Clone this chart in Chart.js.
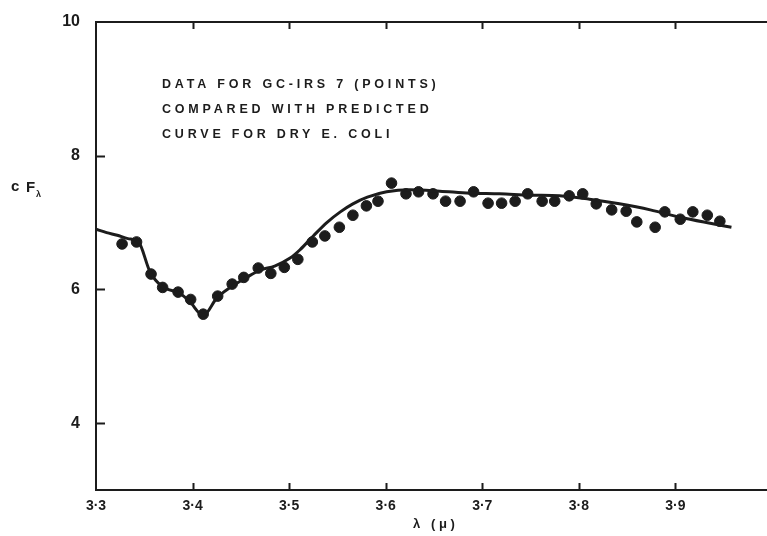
<!DOCTYPE html>
<html>
<head>
<meta charset="utf-8">
<title>GC-IRS 7 compared with dry E. coli</title>
<script src="https://cdn.jsdelivr.net/npm/chart.js@4.4.1/dist/chart.umd.min.js"></script>
<style>
  html, body { margin: 0; padding: 0; background: #fff; overflow: hidden; }
  #wrap { position: relative; width: 780px; height: 536px; }
</style>
</head>
<body>
<div id="wrap"><canvas id="chartCanvas"></canvas></div>
<script>
// Observed points for GC-IRS 7 (wavelength in microns, cF_lambda)
const pointWavelengths = [
  3.327, 3.342, 3.357, 3.369, 3.385, 3.398, 3.411, 3.426, 3.441, 3.453,
  3.468, 3.481, 3.495, 3.509, 3.524, 3.537, 3.552, 3.566, 3.580, 3.592,
  3.606, 3.621, 3.634, 3.649, 3.662, 3.677, 3.691, 3.706, 3.720, 3.734,
  3.747, 3.762, 3.775, 3.790, 3.804, 3.818, 3.834, 3.849, 3.860, 3.879,
  3.889, 3.905, 3.918, 3.933, 3.946
];
const pointFlux = [
  6.68, 6.71, 6.23, 6.03, 5.96, 5.85, 5.63, 5.90, 6.08, 6.18,
  6.32, 6.24, 6.33, 6.45, 6.71, 6.80, 6.93, 7.11, 7.25, 7.32,
  7.59, 7.43, 7.46, 7.43, 7.32, 7.32, 7.46, 7.29, 7.29, 7.32,
  7.43, 7.32, 7.32, 7.40, 7.43, 7.28, 7.19, 7.17, 7.01, 6.93,
  7.16, 7.05, 7.16, 7.11, 7.02
];

// Predicted curve for dry E. coli
const curveWavelengths = [
  3.300, 3.311, 3.322, 3.333, 3.344, 3.356, 3.368, 3.387, 3.397, 3.411, 3.425, 3.439,
  3.456, 3.470, 3.485, 3.501, 3.511, 3.525, 3.539, 3.553, 3.566, 3.581,
  3.601, 3.625, 3.656, 3.687, 3.718, 3.749, 3.780, 3.811, 3.842, 3.874,
  3.905, 3.936, 3.958
];
const curveFlux = [
  6.90, 6.85, 6.81, 6.76, 6.71, 6.26, 6.05, 5.94, 5.82, 5.61, 5.87, 6.03,
  6.18, 6.29, 6.35, 6.47, 6.59, 6.80, 7.00, 7.16, 7.28, 7.38,
  7.46, 7.49, 7.47, 7.44, 7.43, 7.41, 7.40, 7.35, 7.28, 7.19,
  7.08, 6.99, 6.93
];

const xTicks = [3.3, 3.4, 3.5, 3.6, 3.7, 3.8, 3.9];
const yTicks = [4, 6, 8, 10];
const noteLines = ['DATA FOR GC-IRS 7 (POINTS)', 'COMPARED WITH PREDICTED', 'CURVE FOR DRY E. COLI'];

const INK = '#1c1c1c';
const FONT = '"Liberation Sans", Arial, sans-serif';

function toXY(xs, ys) {
  return xs.map((x, i) => ({ x: x, y: ys[i] }));
}

// frame top line, inward tick marks, y title and the note
const decorations = {
  id: 'decorations',
  afterDraw(chart) {
    const ctx = chart.ctx;
    const area = chart.chartArea;
    const xs = chart.scales.x;
    const ys = chart.scales.y;
    ctx.save();
    ctx.strokeStyle = INK;
    ctx.lineWidth = 2;

    ctx.beginPath();
    ctx.moveTo(area.left - 1, area.top);
    ctx.lineTo(area.right, area.top);
    ctx.stroke();

    ctx.beginPath();
    xTicks.slice(1).forEach(v => {
      const px = Math.round(xs.getPixelForValue(v)) + 0.5;
      ctx.moveTo(px, area.bottom);
      ctx.lineTo(px, area.bottom - 7);
      ctx.moveTo(px, area.top);
      ctx.lineTo(px, area.top + 7);
    });
    yTicks.slice(0, -1).forEach(v => {
      const py = Math.round(ys.getPixelForValue(v)) + 0.5;
      ctx.moveTo(area.left, py);
      ctx.lineTo(area.left + 9, py);
    });
    ctx.stroke();

    // y axis title: c F with subscript lambda
    ctx.fillStyle = INK;
    ctx.textBaseline = 'alphabetic';
    ctx.textAlign = 'left';
    ctx.font = 'bold 15px ' + FONT;
    ctx.fillText('c', 11, 191);
    ctx.fillText('F', 26, 192);
    ctx.font = 'bold 9px ' + FONT;
    ctx.fillText('λ', 36, 197);

    // note
    ctx.font = 'bold 12.5px ' + FONT;
    ctx.letterSpacing = '3.8px';
    ctx.textBaseline = 'middle';
    noteLines.forEach((line, i) => {
      ctx.fillText(line, 162, 85 + i * 25);
    });
    ctx.restore();
  }
};

const ctx = document.getElementById('chartCanvas').getContext('2d');
const chart = new Chart(ctx, {
  type: 'scatter',
  data: {
    datasets: [
      {
        label: 'Predicted curve for dry E. coli',
        data: toXY(curveWavelengths, curveFlux),
        showLine: true,
        borderColor: INK,
        borderWidth: 3,
        pointRadius: 0,
        cubicInterpolationMode: 'monotone'
      },
      {
        label: 'GC-IRS 7',
        data: toXY(pointWavelengths, pointFlux),
        showLine: false,
        backgroundColor: INK,
        borderColor: INK,
        borderWidth: 1,
        pointRadius: 5.3
      }
    ]
  },
  options: {
    responsive: true,
    maintainAspectRatio: false,
    animation: false,
    events: [],
    layout: { padding: { top: 22, right: 8, bottom: 0, left: 0 } },
    plugins: {
      legend: { display: false },
      tooltip: { enabled: false }
    },
    scales: {
      x: {
        type: 'linear',
        min: 3.3,
        max: 4.0,
        afterBuildTicks: scale => { scale.ticks = xTicks.map(v => ({ value: v })); },
        afterFit: scale => { scale.height = 46; },
        grid: { display: false, drawTicks: false },
        border: { display: true, color: INK, width: 2 },
        ticks: {
          autoSkip: false,
          maxRotation: 0,
          padding: 8,
          color: INK,
          font: { family: FONT, size: 14, weight: 'bold' },
          callback: v => v.toFixed(1).replace('.', '·')
        },
        title: {
          display: true,
          text: 'λ   ( μ )',
          color: INK,
          padding: { top: 0, bottom: 4 },
          font: { family: FONT, size: 13, weight: 'bold' }
        }
      },
      y: {
        type: 'linear',
        min: 3,
        max: 10,
        afterBuildTicks: scale => { scale.ticks = yTicks.map(v => ({ value: v })); },
        afterFit: scale => {
          scale.width = 96;
          scale.paddingTop = 0;
          scale.paddingBottom = 0;
        },
        grid: { display: false, drawTicks: false },
        border: { display: true, color: INK, width: 2 },
        ticks: {
          padding: 16,
          color: INK,
          font: { family: FONT, size: 16, weight: 'bold' }
        }
      }
    }
  },
  plugins: [decorations]
});
</script>
</body>
</html>
